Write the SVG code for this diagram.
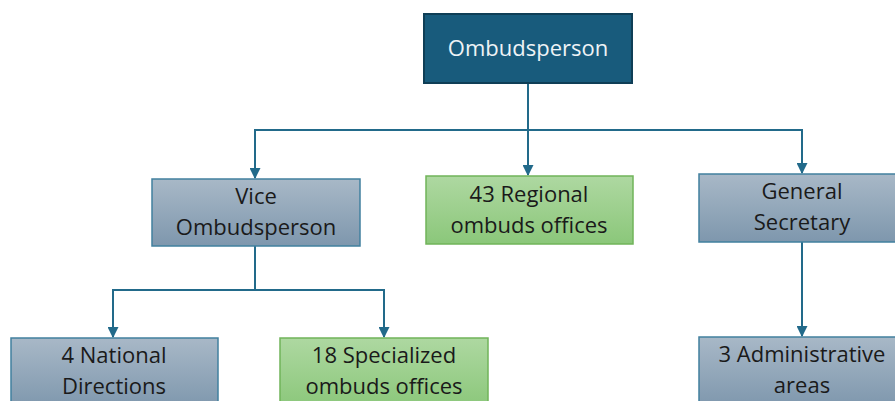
<svg xmlns="http://www.w3.org/2000/svg" width="895" height="401" viewBox="0 0 895 401">
<style>
text{font-family:"Open Sans","Noto Sans",sans-serif;font-size:22px;text-anchor:middle;fill:#1a1a1a}
.top text{fill:#eef3f6}
.blue{fill:url(#gb);stroke:#41809f;stroke-width:1.5}
.green{fill:url(#gg);stroke:#70b45a;stroke-width:1.5}
.conn path{fill:none;stroke:#226a8a;stroke-width:2}
</style>
<defs>
<linearGradient id="gb" x1="0" y1="0" x2="0" y2="1"><stop offset="0" stop-color="#a8b8c7"/><stop offset="1" stop-color="#7e97ad"/></linearGradient>
<linearGradient id="gg" x1="0" y1="0" x2="0" y2="1"><stop offset="0" stop-color="#aed8a1"/><stop offset="1" stop-color="#8bc77a"/></linearGradient>
<marker id="ar" viewBox="0 0 10 10" refX="9" refY="5" markerWidth="5.5" markerHeight="5.5" orient="auto" markerUnits="strokeWidth"><path d="M0,0 L10,5 L0,10 z" fill="#226a8a"/></marker>
</defs>
<rect width="895" height="401" fill="#ffffff"/>
<g class="conn">
<path d="M528,83 V130 H255 V178" marker-end="url(#ar)"/>
<path d="M528,130 V175" marker-end="url(#ar)"/>
<path d="M528,130 H802 V173" marker-end="url(#ar)"/>
<path d="M255,246 V290 H113 V337" marker-end="url(#ar)"/>
<path d="M255,290 H384 V337" marker-end="url(#ar)"/>
<path d="M802,242 V336" marker-end="url(#ar)"/>
</g>
<g id="ombudsperson" class="top">
<rect x="424" y="14" width="208" height="69" fill="#185b7c" stroke="#0f3e56" stroke-width="2"/>
<text x="528" y="56">Ombudsperson</text>
</g>
<g id="vice">
<rect class="blue" x="152" y="179" width="208" height="67"/>
<text x="256" y="204">Vice</text>
<text x="256" y="235">Ombudsperson</text>
</g>
<g id="regional">
<rect class="green" x="426" y="176" width="207" height="68"/>
<text x="529" y="202">43 Regional</text>
<text x="529" y="233">ombuds offices</text>
</g>
<g id="general">
<rect class="blue" x="699" y="174" width="200" height="68"/>
<text x="802" y="199">General</text>
<text x="802" y="230">Secretary</text>
</g>
<g id="national">
<rect class="blue" x="11" y="338" width="207" height="70"/>
<text x="114" y="363">4 National</text>
<text x="114" y="394">Directions</text>
</g>
<g id="specialized">
<rect class="green" x="280" y="338" width="208" height="70"/>
<text x="384" y="363">18 Specialized</text>
<text x="384" y="394">ombuds offices</text>
</g>
<g id="admin">
<rect class="blue" x="699" y="337" width="200" height="70"/>
<text x="802" y="362">3 Administrative</text>
<text x="802" y="393">areas</text>
</g>
</svg>
